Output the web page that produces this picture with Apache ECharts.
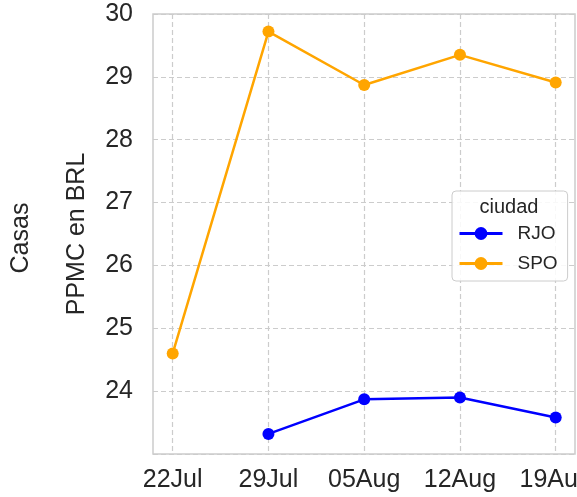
<!DOCTYPE html>
<html>
<head>
<meta charset="utf-8">
<script src="https://cdn.jsdelivr.net/npm/echarts@6/dist/echarts.min.js"></script>
<style>
  html, body { margin: 0; padding: 0; background: #fff; }
  #chart { width: 577px; height: 497px; }
</style>
</head>
<body>
<div id="chart"></div>
<script>
// fechas (semanas)
const fechas = ['22Jul', '29Jul', '05Aug', '12Aug', '19Aug'];
// PPMC en BRL por ciudad
const rjo = [null, 23.32, 23.87, 23.90, 23.58];
const spo = [24.60, 29.72, 28.87, 29.35, 28.91];
const yTicks = [24, 25, 26, 27, 28, 29, 30];

const fontFam = '"Liberation Sans", Arial, sans-serif';
const textColor = '#262626';
const gridColor = '#cccccc';

var chart = echarts.init(document.getElementById('chart'), null, { renderer: 'canvas' });

const option = {
  animation: false,
  textStyle: { fontFamily: fontFam },
  grid: [
    // marco y lineas horizontales
    { left: 153, right: 2, top: 14, bottom: 43, show: true, borderColor: gridColor, borderWidth: 1.5, backgroundColor: 'transparent', outerBoundsMode: 'none', containLabel: false },
    // area de datos
    { left: 172.7, right: 21.3, top: 14, bottom: 43, outerBoundsMode: 'none', containLabel: false }
  ],
  xAxis: [
    { gridIndex: 0, type: 'value', min: 0, max: 1, show: false },
    {
      gridIndex: 1,
      type: 'category',
      data: fechas,
      boundaryGap: false,
      axisLine: { show: false },
      axisTick: { show: false },
      axisLabel: { fontSize: 25, color: textColor, margin: 14, fontFamily: fontFam, interval: 0, hideOverlap: false },
      splitLine: { show: true, interval: 0, lineStyle: { color: gridColor, type: [5, 3], width: 1.2 } }
    }
  ],
  yAxis: [
    {
      gridIndex: 0,
      type: 'value',
      min: 23,
      max: 30,
      interval: 1,
      axisLine: { show: false },
      axisTick: { show: false },
      axisLabel: {
        fontSize: 25, color: textColor, margin: 20, fontFamily: fontFam,
        formatter: function (v) { return yTicks.indexOf(v) >= 0 ? String(v) : ''; }
      },
      splitLine: { show: true, lineStyle: { color: gridColor, type: [5, 3], width: 1.2 } },
      name: 'PPMC en BRL',
      nameLocation: 'middle',
      nameRotate: 90,
      nameGap: 63,
      nameTextStyle: { fontSize: 25, color: textColor, fontFamily: fontFam }
    },
    { gridIndex: 1, type: 'value', min: 23, max: 30, show: false }
  ],
  legend: {
    orient: 'vertical',
    left: 452,
    top: 191,
    padding: [33, 10, 8, 6],
    itemWidth: 43,
    itemHeight: 16,
    itemGap: 11,
    backgroundColor: 'rgba(255,255,255,0.85)',
    borderColor: gridColor,
    borderWidth: 1,
    borderRadius: 4,
    lineStyle: { width: 3 },
    textStyle: { fontSize: 19, color: textColor, fontFamily: fontFam, padding: [0, 0, 0, 10] },
    data: ['RJO', 'SPO']
  },
  graphic: [
    {
      type: 'text', x: 509, y: 207, z: 100,
      style: { text: 'ciudad', fontSize: 20, fill: textColor, fontFamily: fontFam, align: 'center', verticalAlign: 'middle' }
    },
    {
      type: 'text', x: 21, y: 238, rotation: Math.PI / 2,
      style: { text: 'Casas', fontSize: 25, fill: textColor, fontFamily: fontFam, align: 'center', verticalAlign: 'middle' }
    }
  ],
  series: [
    {
      name: 'RJO', type: 'line', xAxisIndex: 1, yAxisIndex: 1,
      data: rjo, connectNulls: false,
      symbol: 'circle', symbolSize: 12,
      itemStyle: { color: '#0000ff' },
      lineStyle: { color: '#0000ff', width: 2.5 }
    },
    {
      name: 'SPO', type: 'line', xAxisIndex: 1, yAxisIndex: 1,
      data: spo,
      symbol: 'circle', symbolSize: 12,
      itemStyle: { color: '#ffa500' },
      lineStyle: { color: '#ffa500', width: 2.5 }
    }
  ]
};

chart.setOption(option);
</script>
</body>
</html>
